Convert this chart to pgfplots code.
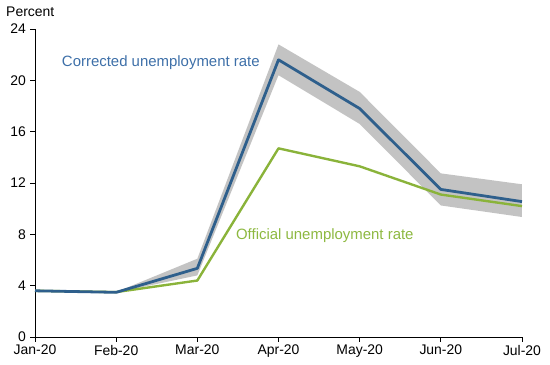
\documentclass[border=0pt]{standalone}
\usepackage{pgfplots}
\pgfplotsset{compat=1.18}
\usepackage{fontspec}
\setmainfont{Liberation Sans}
\definecolor{cblue}{HTML}{2E5F8C}
\definecolor{cgreen}{HTML}{8AB33A}
\definecolor{tblue}{HTML}{3D6FA8}
\definecolor{tgreen}{HTML}{8DB840}
\definecolor{band}{HTML}{C3C3C3}
\begin{document}
\begin{tikzpicture}
\begin{axis}[
  scale only axis,
  width=487bp, height=308bp,
  xmin=0, xmax=6, ymin=0, ymax=24,
  axis x line*=bottom, axis y line*=left,
  axis line style={black, line width=0.8pt, -},
  xtick={0,1,2,3,4,5,6},
  xticklabels={Jan-20,Feb-20,Mar-20,Apr-20,May-20,Jun-20,Jul-20},
  ytick={0,4,8,12,16,20,24},
  tick align=outside,
  major tick length=4.5bp,
  tick style={black, line width=0.8pt},
  ticklabel style={font=\fontsize{14}{16}\selectfont},
  /pgf/number format/assume math mode=true,
  xticklabel style={yshift=0bp},
  yticklabel style={xshift=-1bp},
  clip=false,
]
\addplot[fill=band, draw=none] coordinates {
  (0,3.62) (1,3.5) (2,6.1) (3,22.8) (4,19.1) (5,12.75) (6,11.9)
  (6,9.35) (5,10.25) (4,16.6) (3,20.4) (2,4.8) (1,3.46) (0,3.58)
} -- cycle;
\addplot[cgreen, line width=2.4pt, line join=round] coordinates {
  (0,3.6) (1,3.5) (2,4.4) (3,14.7) (4,13.3) (5,11.1) (6,10.2)
};
\addplot[cblue, line width=2.8pt, line join=round] coordinates {
  (0,3.6) (1,3.48) (2,5.35) (3,21.6) (4,17.8) (5,11.5) (6,10.55)
};
\node[anchor=base west, text=tblue, inner sep=0pt, font=\fontsize{15}{17}\selectfont] at (axis cs:0.33,21.04) {Corrected unemployment rate};
\node[anchor=base west, text=tgreen, inner sep=0pt, font=\fontsize{15}{17}\selectfont] at (axis cs:2.475,7.56) {Official unemployment rate};
\node[anchor=base west, inner sep=0pt, font=\fontsize{14}{16}\selectfont] at ([xshift=-29bp,yshift=12bp]rel axis cs:0,1) {Percent};
\end{axis}
\pgfresetboundingbox
\useasboundingbox (-35bp,-28bp) rectangle (515bp,337bp);
\end{tikzpicture}
\end{document}
